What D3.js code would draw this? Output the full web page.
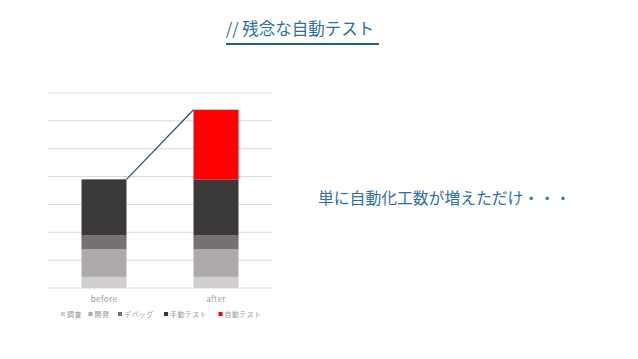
<!DOCTYPE html>
<html>
<head>
<meta charset="utf-8">
<script src="https://cdn.jsdelivr.net/npm/d3@7"></script>
<style>
  body { margin: 0; background: #fff; }
  svg { display: block; font-family: "Noto Sans CJK JP", "Noto Sans", sans-serif; }
</style>
</head>
<body>
<div id="chart"></div>
<script>
// data
const categories = ['before', 'after'];
const seriesNames = ['調査', '開発', 'デバッグ', '手動テスト', '自動テスト'];
const seriesColors = ['#d0cece', '#aeaaaa', '#767171', '#3b3838', '#ff0000'];
const beforeValues = [4, 10, 5, 20, 0];
const afterValues = [4, 10, 5, 20, 25];
const yTicks = [0, 10, 20, 30, 40, 50, 60, 70];

const width = 638, height = 359;
const svg = d3.select('#chart').append('svg')
    .attr('width', width)
    .attr('height', height);

// title
svg.append('text')
    .attr('x', 300).attr('y', 35)
    .attr('text-anchor', 'middle')
    .attr('font-size', 16.5)
    .attr('fill', '#2e6fa6')
    .text('// 残念な自動テスト');
svg.append('line')
    .attr('x1', 226).attr('x2', 379)
    .attr('y1', 44).attr('y2', 44)
    .attr('stroke', '#1f5f92')
    .attr('stroke-width', 2);

// plot area
const x = d3.scaleBand().domain(categories).range([48, 272]).paddingInner(1 - 45 / 112).paddingOuter((1 - 45 / 112) / 2);
const y = d3.scaleLinear().domain([0, 70]).range([288, 93]);

svg.append('g')
    .selectAll('line')
    .data(yTicks)
    .enter().append('line')
    .attr('x1', 48).attr('x2', 272)
    .attr('y1', d => y(d)).attr('y2', d => y(d))
    .attr('stroke', '#d9d9d9')
    .attr('stroke-width', 1);

const rows = categories.map((c, i) => {
    const vals = i === 0 ? beforeValues : afterValues;
    const row = { cat: c };
    seriesNames.forEach((s, j) => row[s] = vals[j]);
    return row;
});
const stacked = d3.stack().keys(seriesNames)(rows);

svg.append('g')
    .selectAll('g')
    .data(stacked)
    .enter().append('g')
    .attr('fill', (d, i) => seriesColors[i])
    .selectAll('rect')
    .data(d => d)
    .enter().append('rect')
    .attr('x', d => x(d.data.cat))
    .attr('y', d => y(d[1]))
    .attr('width', x.bandwidth())
    .attr('height', d => y(d[0]) - y(d[1]));

// connector line from top of before to top of after
const totals = rows.map(r => d3.sum(seriesNames, s => r[s]));
svg.append('line')
    .attr('x1', x('before') + x.bandwidth()).attr('y1', y(totals[0]))
    .attr('x2', x('after')).attr('y2', y(totals[1]))
    .attr('stroke', '#2f4f82')
    .attr('stroke-width', 1.3);

// category labels
svg.append('g')
    .selectAll('text')
    .data(categories)
    .enter().append('text')
    .attr('x', d => x(d) + x.bandwidth() / 2)
    .attr('y', 302)
    .attr('text-anchor', 'middle')
    .attr('font-size', 8)
    .attr('letter-spacing', 0.4)
    .attr('fill', '#999')
    .text(d => d);

// legend
const legendX = [61, 88.5, 118, 164, 218.5];
const legend = svg.append('g')
    .selectAll('g')
    .data(seriesNames)
    .enter().append('g')
    .attr('transform', (d, i) => `translate(${legendX[i]},314)`);
legend.append('rect')
    .attr('x', 0).attr('y', -2)
    .attr('width', 4).attr('height', 4)
    .attr('fill', (d, i) => seriesColors[i]);
legend.append('text')
    .attr('x', 6).attr('y', 2.5)
    .attr('font-size', 7)
    .attr('letter-spacing', 0.4)
    .attr('fill', '#999')
    .text(d => d);

// side remark
svg.append('text')
    .attr('x', 318).attr('y', 204)
    .attr('font-size', 15.8)
    .attr('fill', '#2e6fa6')
    .text('単に自動化工数が増えただけ・・・');
</script>
</body>
</html>
